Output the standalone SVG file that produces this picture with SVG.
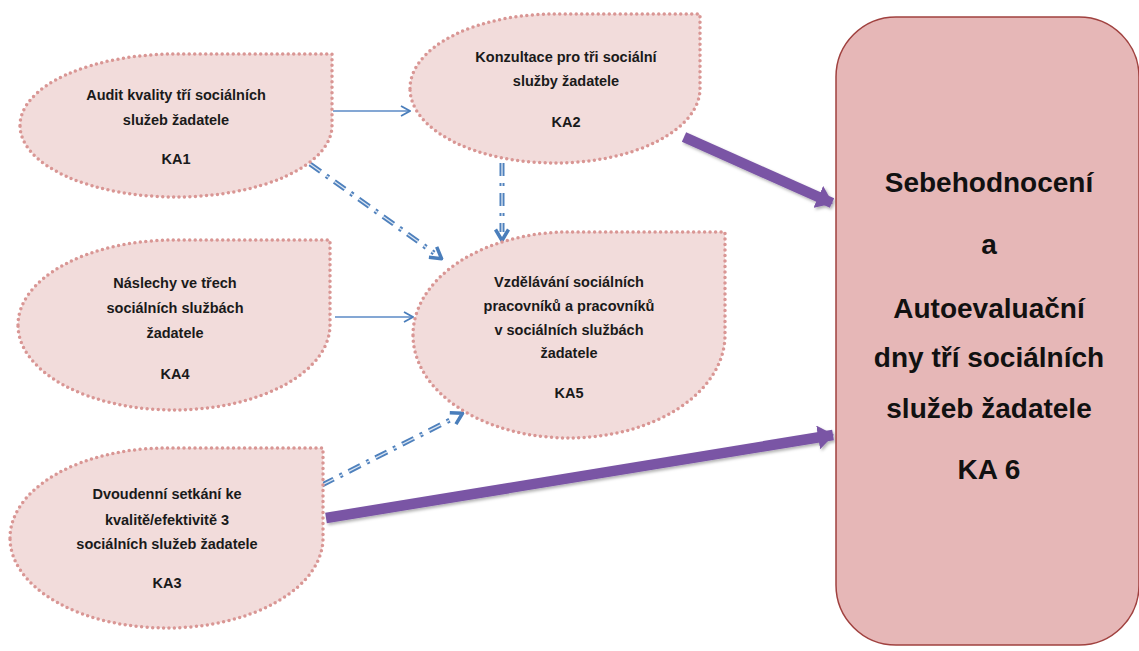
<svg xmlns="http://www.w3.org/2000/svg" width="1139" height="651" viewBox="0 0 1139 651">
<defs>
<style>
.node{fill:#f2dcdb;stroke:#d99694;stroke-width:3.5;stroke-dasharray:0 5.5;stroke-linecap:round}
.t{font-family:"Liberation Sans",Arial,sans-serif;font-weight:bold;font-size:14.5px;fill:#1a1a1a;text-anchor:middle}
.big{font-family:"Liberation Sans",Arial,sans-serif;font-weight:bold;font-size:28px;fill:#111;text-anchor:middle}
.thin{fill:none;stroke:#5b8ac6;stroke-width:1.7;marker-end:url(#chev)}
.dd{fill:none;stroke:#4f81bd;stroke-width:5;stroke-dasharray:13 7 3 7}
.ddw{fill:none;stroke:#dce6f2;stroke-width:1.3;stroke-dasharray:13 7 3 7}
.purple{fill:none;stroke:#7a55a5;stroke-width:10.5;marker-end:url(#tri);filter:url(#sh)}
</style>
<marker id="chev" viewBox="0 0 12 12" refX="11" refY="6" markerWidth="12" markerHeight="12" markerUnits="userSpaceOnUse" orient="auto">
<polyline points="2,1 11,6 2,11" fill="none" stroke="#4a7ebb" stroke-width="1.8"/>
</marker>
<marker id="chev2" viewBox="0 0 16 16" refX="14.5" refY="8" markerWidth="16" markerHeight="16" markerUnits="userSpaceOnUse" orient="auto">
<polyline points="3,1.5 14,8 3,14.5" fill="none" stroke="#4a7ebb" stroke-width="3.5" stroke-linejoin="round"/>
</marker>
<marker id="tri" viewBox="0 0 16 24" refX="15" refY="12" markerWidth="16" markerHeight="24" markerUnits="userSpaceOnUse" orient="auto">
<polygon points="0,0 16,12 0,24" fill="#7a55a5"/>
</marker>
<filter id="sh" x="-10%" y="-50%" width="120%" height="200%">
<feDropShadow dx="1.5" dy="2" stdDeviation="1.5" flood-color="#000" flood-opacity="0.3"/>
</filter>
</defs>

<g id="connectors">
<line class="thin" x1="333" y1="111" x2="410" y2="111"/>
<line class="thin" x1="335" y1="317" x2="413" y2="317"/>
<g id="dd1">
<line class="dd" x1="310" y1="164" x2="434" y2="253"/>
<line class="ddw" x1="310" y1="164" x2="434" y2="253"/>
<line x1="430" y1="250" x2="442" y2="259" stroke="none" marker-end="url(#chev2)"/>
</g>
<g id="dd2">
<line class="dd" x1="502" y1="163" x2="502" y2="232"/>
<line class="ddw" x1="502" y1="163" x2="502" y2="232"/>
<line x1="502" y1="228" x2="502" y2="241" stroke="none" marker-end="url(#chev2)"/>
</g>
<g id="dd3">
<line class="dd" x1="322" y1="485" x2="454" y2="418"/>
<line class="ddw" x1="322" y1="485" x2="454" y2="418"/>
<line x1="450" y1="420" x2="463" y2="413" stroke="none" marker-end="url(#chev2)"/>
</g>
<line class="purple" x1="684" y1="137" x2="832" y2="203"/>
<line class="purple" x1="724" y1="303" x2="831" y2="303"/>
<line class="purple" x1="326" y1="518" x2="833" y2="435"/>
</g>

<g id="KA1">
<path class="node" d="M20,125.5 A156,71.5 0 0 1 176,54 L332,54 L332,125.5 A156,71.5 0 0 1 176,197 A156,71.5 0 0 1 20,125.5 Z"/>
<text class="t" x="176" y="100">Audit kvality tří sociálních</text>
<text class="t" x="176" y="125">služeb žadatele</text>
<text class="t" x="176" y="164">KA1</text>
</g>

<g id="KA2">
<path class="node" d="M410,88.5 A145,74.5 0 0 1 555,14 L700,14 L700,88.5 A145,74.5 0 0 1 555,163 A145,74.5 0 0 1 410,88.5 Z"/>
<text class="t" x="566" y="62">Konzultace pro tři sociální</text>
<text class="t" x="566" y="86">služby žadatele</text>
<text class="t" x="566" y="127">KA2</text>
</g>

<g id="KA4">
<path class="node" d="M18,325 A156,85 0 0 1 174,240 L330,240 L330,325 A156,85 0 0 1 174,410 A156,85 0 0 1 18,325 Z"/>
<text class="t" x="175" y="288">Náslechy ve třech</text>
<text class="t" x="175" y="313">sociálních službách</text>
<text class="t" x="175" y="338">žadatele</text>
<text class="t" x="175" y="379">KA4</text>
</g>

<g id="KA5">
<path class="node" d="M413,335 A156,103 0 0 1 569,232 L725,232 L725,335 A156,103 0 0 1 569,438 A156,103 0 0 1 413,335 Z"/>
<text class="t" x="569" y="287">Vzdělávání sociálních</text>
<text class="t" x="569" y="311">pracovníků a pracovníků</text>
<text class="t" x="569" y="335">v sociálních službách</text>
<text class="t" x="569" y="358">žadatele</text>
<text class="t" x="569" y="398">KA5</text>
</g>

<g id="KA3">
<path class="node" d="M10,538 A156.5,90 0 0 1 166.5,448 L323,448 L323,538 A156.5,90 0 0 1 166.5,628 A156.5,90 0 0 1 10,538 Z"/>
<text class="t" x="167" y="499">Dvoudenní setkání ke</text>
<text class="t" x="167" y="525">kvalitě/efektivitě 3</text>
<text class="t" x="167" y="549">sociálních služeb žadatele</text>
<text class="t" x="167" y="588">KA3</text>
</g>

<g id="KA6">
<rect x="836" y="17" width="303" height="628" rx="60" ry="60" fill="#e6b7b7" stroke="#a0413f" stroke-width="1.5"/>
<text class="big" x="989" y="192">Sebehodnocení</text>
<text class="big" x="989" y="254">a</text>
<text class="big" x="989" y="318">Autoevaluační</text>
<text class="big" x="989" y="367">dny tří sociálních</text>
<text class="big" x="989" y="418">služeb žadatele</text>
<text class="big" x="989" y="479">KA 6</text>
</g>
</svg>
